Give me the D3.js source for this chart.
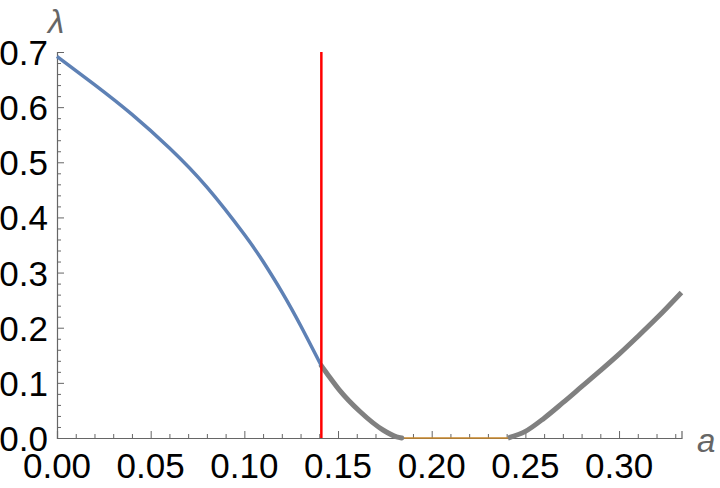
<!DOCTYPE html>
<html><head><meta charset="utf-8">
<script src="https://cdn.jsdelivr.net/npm/d3@7"></script>
<style>body{margin:0;background:#fff}svg{display:block}</style>
</head><body>
<script>
// Data
const blueA = [0, 0.02, 0.04, 0.06, 0.08, 0.10, 0.11, 0.12, 0.13, 0.1411];
const blueL = [0.692, 0.641, 0.587, 0.526, 0.455, 0.369, 0.320, 0.265, 0.204, 0.131];
const grayLeftA = [0.1411, 0.1439, 0.151, 0.1617, 0.174, 0.1813, 0.184];
const grayLeftL = [0.131, 0.118, 0.086, 0.048, 0.0145, 0.002, 0];
const grayRightA = [0.2407, 0.25, 0.26, 0.27, 0.28, 0.29, 0.30, 0.31, 0.32, 0.3333];
const grayRightL = [0, 0.012, 0.036, 0.064, 0.093, 0.122, 0.152, 0.184, 0.217, 0.264];
const zeroA = [0.184, 0.2407];
const zeroL = [0, 0];
const redA = 0.1411;
const xTicks = [0, 0.05, 0.10, 0.15, 0.20, 0.25, 0.30];
const xTickLabels = ["0.00", "0.05", "0.10", "0.15", "0.20", "0.25", "0.30"];
const yTicks = [0, 0.1, 0.2, 0.3, 0.4, 0.5, 0.6, 0.7];
const yTickLabels = ["0.0", "0.1", "0.2", "0.3", "0.4", "0.5", "0.6", "0.7"];
const xLabel = "a", yLabel = "λ";

const W = 720, H = 488;
const svg = d3.select("body").append("svg").attr("width", W).attr("height", H);
const x = d3.scaleLinear().domain([0, 1/3]).range([57, 681.5]);
const y = d3.scaleLinear().domain([0, 0.7]).range([438, 52]);
const axisColor = "#666";
const font = "'Liberation Sans', Arial, sans-serif";

// minor ticks
const xMinor = d3.range(0, 34).map(i => i / 100).filter(v => v <= 1/3 && Math.round(v * 100) % 5 !== 0);
const yMinor = d3.range(0, 36).map(i => i / 50).filter(v => v <= 0.7001 && Math.round(v * 50) % 5 !== 0);

const gx = svg.append("g").attr("transform", `translate(0,${y(0)})`)
  .call(d3.axisTop(x).tickValues(xTicks).tickSize(7).tickFormat(""));
const gxm = svg.append("g").attr("transform", `translate(0,${y(0)})`)
  .call(d3.axisTop(x).tickValues(xMinor).tickSize(4).tickFormat(""));
const gy = svg.append("g").attr("transform", `translate(${x(0)},0)`)
  .call(d3.axisRight(y).tickValues(yTicks).tickSize(7).tickFormat(""));
const gym = svg.append("g").attr("transform", `translate(${x(0)},0)`)
  .call(d3.axisRight(y).tickValues(yMinor).tickSize(4).tickFormat(""));
[gx, gxm, gy, gym].forEach(g => {
  g.selectAll("path").attr("stroke", axisColor).attr("stroke-width", 1.2);
  g.selectAll("line").attr("stroke", axisColor).attr("stroke-width", 1);
});
gxm.select("path").remove(); gym.select("path").remove();

// tick labels
svg.append("g").selectAll("text").data(xTicks).join("text")
  .attr("x", d => x(d)).attr("y", 478)
  .attr("text-anchor", "middle").attr("font-family", font).attr("font-size", 35)
  .attr("fill", "#000").text((d, i) => xTickLabels[i]);
svg.append("g").selectAll("text").data(yTicks).join("text")
  .attr("x", 48).attr("y", d => y(d) + 13)
  .attr("text-anchor", "end").attr("font-family", font).attr("font-size", 35)
  .attr("fill", "#000").text((d, i) => yTickLabels[i]);

// axis labels
svg.append("text").attr("x", 56).attr("y", 33).attr("text-anchor", "middle")
  .attr("font-family", font).attr("font-style", "italic").attr("font-size", 33)
  .attr("fill", "#666").text(yLabel);
svg.append("text").attr("x", 697).attr("y", 452)
  .attr("font-family", font).attr("font-style", "italic").attr("font-size", 33)
  .attr("fill", "#666").text(xLabel);

const smooth = d3.line().x(d => x(d[0])).y(d => y(d[1])).curve(d3.curveNatural);
const mono = d3.line().x(d => x(d[0])).y(d => y(d[1])).curve(d3.curveMonotoneX);
const zip = (a, b) => a.map((v, i) => [v, b[i]]);

svg.append("path").datum(zip(zeroA, zeroL)).attr("d", mono)
  .attr("fill", "none").attr("stroke", "#c9872a").attr("stroke-width", 1.5);
svg.append("path").datum(zip(grayLeftA, grayLeftL)).attr("d", mono)
  .attr("fill", "none").attr("stroke", "#808080").attr("stroke-width", 5).attr("stroke-linecap", "round");
svg.append("path").datum(zip(grayRightA, grayRightL)).attr("d", mono)
  .attr("fill", "none").attr("stroke", "#808080").attr("stroke-width", 5).attr("stroke-linecap", "butt");
svg.append("path").datum(zip(blueA, blueL)).attr("d", smooth)
  .attr("fill", "none").attr("stroke", "#5e81b5").attr("stroke-width", 3.5);
svg.append("line").attr("x1", x(redA)).attr("x2", x(redA)).attr("y1", y(0.7)).attr("y2", y(0))
  .attr("stroke", "#ff0000").attr("stroke-width", 2.5);
</script>
</body></html>
